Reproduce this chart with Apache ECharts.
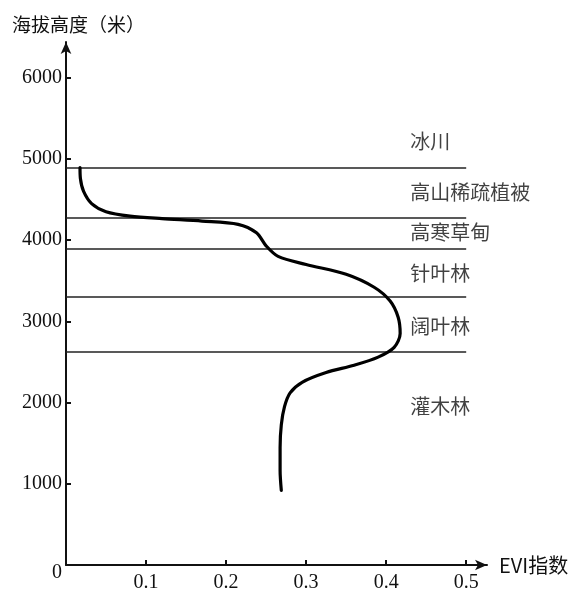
<!DOCTYPE html>
<html><head><meta charset="utf-8">
<script src="https://cdn.jsdelivr.net/npm/echarts@6/dist/echarts.min.js"></script>
<style>html,body{margin:0;padding:0;background:#fff}#c{width:585px;height:593px}</style>
</head><body><div id="c"></div>
<script>
// EVI curve: [EVI, altitude]
const eviValues = [0.269,0.2675,0.2675,0.269,0.273,0.28,0.295,0.325,0.36,0.39,0.41,0.4175,0.415,0.405,0.385,0.35,0.30,0.265,0.25,0.238,0.215,0.17,0.12,0.08,0.05,0.032,0.022,0.018,0.0175];
const altitudes = [918,1163,1444,1726,1950,2120,2250,2370,2460,2560,2680,2850,3050,3250,3420,3580,3700,3800,3930,4090,4195,4235,4265,4296,4350,4450,4600,4760,4892];
const boundaryAltitudes = [4890, 4270, 3890, 3300, 2630];
const zoneNames = ['冰川','高山稀疏植被','高寒草甸','针叶林','阔叶林','灌木林'];
const zoneLabelAltitudes = [5214, 4590, 4100, 3586, 2938, 1958];
const xTicks = [0.1,0.2,0.3,0.4,0.5];
const yTicks = [1000,2000,3000,4000,5000,6000];
const yLabels = [0,1000,2000,3000,4000,5000,6000];

const serif = '"Liberation Serif","DejaVu Serif",serif';
const cjk = '"Noto Sans CJK SC",sans-serif';
const chart = echarts.init(document.getElementById('c'));
const curve = eviValues.map((v,i)=>[v, altitudes[i]]);
const zoneLabelX = 0.43;
chart.setOption({
  animation:false,
  backgroundColor:'#fff',
  grid:{left:66,right:98,top:42,bottom:25},
  xAxis:{type:'value',min:0,max:0.526,
    name:'EVI指数',nameLocation:'end',nameGap:12,
    nameTextStyle:{color:'#111',fontSize:20,fontFamily:cjk,verticalAlign:'middle'},
    axisLine:{show:true,lineStyle:{color:'#111',width:2},symbol:['none','arrow'],symbolSize:[8,12]},
    axisTick:{show:true,inside:true,length:5,lineStyle:{color:'#111',width:2},customValues:xTicks},
    axisLabel:{color:'#111',fontSize:20,fontFamily:serif,margin:8,customValues:xTicks,formatter:v=>String(v)},
    splitLine:{show:false}},
  yAxis:{type:'value',min:0,max:6440,
    name:'海拔高度（米）',nameLocation:'end',nameGap:8,
    nameTextStyle:{color:'#111',fontSize:19,fontFamily:cjk,align:'left',padding:[0,0,0,-54]},
    axisLine:{show:true,lineStyle:{color:'#111',width:2},symbol:['none','arrow'],symbolSize:[8,12]},
    axisTick:{show:true,inside:true,length:5,lineStyle:{color:'#111',width:2},customValues:yTicks},
    axisLabel:{color:'#111',fontSize:20,fontFamily:serif,margin:4,customValues:yLabels,
      formatter:v=> v===0 ? '{z|0}' : String(v),
      rich:{z:{fontSize:20,fontFamily:serif,color:'#111',padding:[16,0,0,0]}}},
    splitLine:{show:false}},
  series:[
    {type:'line',data:curve,smooth:0.3,showSymbol:false,
      lineStyle:{color:'#000',width:3.2,cap:'round',join:'round'},z:5,
      markLine:{silent:true,symbol:['none','none'],label:{show:false},
        lineStyle:{color:'#222',width:1.6,type:'solid'},
        data:boundaryAltitudes.map(a=>[{coord:[0,a]},{coord:[0.5,a]}])}},
    {type:'scatter',symbolSize:0,
      data:zoneNames.map((n,i)=>({name:n,value:[zoneLabelX,zoneLabelAltitudes[i]]})),
      label:{show:true,position:'right',distance:0,formatter:p=>p.name,
        color:'#111',fontSize:20,fontFamily:cjk}}
  ]
});
</script></body></html>
